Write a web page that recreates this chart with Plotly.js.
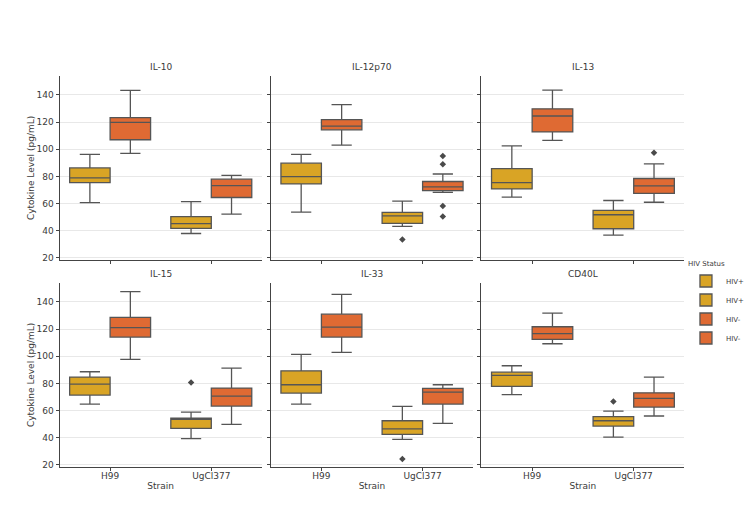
<!DOCTYPE html>
<html>
<head>
<meta charset="utf-8">
<script src="https://cdn.plot.ly/plotly-3.0.1.min.js"></script>
<style>html,body{margin:0;padding:0;background:#fff}#chart{width:750px;height:520px}</style>
</head>
<body>
<div id="chart"></div>
<script>
// ---- data ----
const cytokines = ["IL-10", "IL-12p70", "IL-13", "IL-15", "IL-33", "CD40L"];
const strains = ["H99", "UgCl377"];
const groups = ["HIV+", "HIV-"];

// HIV+ box statistics per cytokine: [H99, UgCl377]
const posLow  = [[60.8, 38.0], [53.8, 43.3], [64.8, 36.8], [64.8, 39.3], [64.8, 38.8], [71.7, 40.5]];
const posQ1   = [[75.5, 41.8], [74.5, 45.5], [70.8, 41.5], [71.4, 46.9], [72.9, 42.5], [77.8, 48.6]];
const posMed  = [[79.0, 45.3], [79.8, 51.0], [75.5, 51.8], [79.5, 53.5], [79.0, 46.6], [85.9, 52.5]];
const posQ3   = [[86.3, 50.5], [89.8, 53.5], [85.8, 55.0], [84.7, 54.5], [89.3, 52.5], [88.3, 55.5]];
const posHigh = [[96.3, 61.5], [96.3, 61.8], [102.5, 62.3], [88.6, 58.9], [101.3, 63.1], [93.0, 59.6]];
const posOut  = [[[], []], [[], [33.5]], [[], []], [[], [80.7]], [[], [24.3]], [[], [66.7]]];

// HIV- box statistics per cytokine: [H99, UgCl377]
const negLow  = [[97.0, 52.3], [103.0, 68.3], [106.5, 61.0], [97.7, 49.8], [102.8, 50.6], [109.2, 56.0]];
const negQ1   = [[107.0, 64.5], [114.3, 69.5], [112.8, 67.5], [114.1, 63.3], [114.1, 64.8], [112.4, 62.6]];
const negMed  = [[119.8, 73.3], [117.0, 72.3], [124.5, 73.0], [121.0, 70.7], [121.5, 73.6], [116.6, 69.0]];
const negQ3   = [[123.3, 78.0], [121.8, 76.3], [129.8, 78.5], [128.6, 76.6], [131.0, 76.3], [121.7, 73.1]];
const negHigh = [[143.3, 80.8], [132.8, 81.8], [143.5, 89.3], [147.5, 91.3], [145.5, 79.0], [131.8, 84.7]];
const negOut  = [[[], []], [[], [95.0, 89.0, 58.3, 50.5]], [[], [97.5]], [[], []], [[], []], [[], []]];

const yTicks = [20, 40, 60, 80, 100, 120, 140];

// ---- styling ----
const colors = {"HIV+": "#D9A425", "HIV-": "#DF6A33"};
const edge = "#555555";
const txt = "#3a3a3a";
const offsets = {"HIV+": -0.2, "HIV-": 0.2};
const stats = {
  "HIV+": {low: posLow, q1: posQ1, med: posMed, q3: posQ3, high: posHigh, out: posOut},
  "HIV-": {low: negLow, q1: negQ1, med: negMed, q3: negQ3, high: negHigh, out: negOut}
};

const xDom = [[0.080, 0.352], [0.364, 0.636], [0.647, 0.920]];
const yDom = [[0.500, 0.854], [0.102, 0.456]];

const traces = [];
const layout = {
  width: 750, height: 520,
  margin: {l: 0, r: 0, t: 0, b: 0},
  paper_bgcolor: "#ffffff", plot_bgcolor: "#ffffff",
  font: {family: "DejaVu Sans", size: 9, color: txt},
  showlegend: true,
  legend: {
    x: 0.922, y: 0.505, xanchor: "left", yanchor: "top",
    title: {text: "HIV Status", font: {size: 7, color: txt}},
    font: {size: 7, color: txt},
    bgcolor: "rgba(255,255,255,0)",
    itemwidth: 30, tracegroupgap: 0
  },
  annotations: [],
  boxmode: "overlay"
};

cytokines.forEach((cyt, i) => {
  const row = Math.floor(i / 3), col = i % 3;
  const n = i + 1;
  const xa = "x" + (n === 1 ? "" : n), ya = "y" + (n === 1 ? "" : n);
  groups.forEach((g, gi) => {
    const s = stats[g];
    const showLeg = i < 2;
    traces.push({
      type: "box",
      name: g,
      legendgroup: g + i,
      legendrank: gi * 10 + i,
      showlegend: showLeg,
      x: strains.map((_, k) => k + offsets[g]),
      q1: s.q1[i], median: s.med[i], q3: s.q3[i],
      lowerfence: s.low[i], upperfence: s.high[i],
      width: 0.4,
      boxpoints: false,
      fillcolor: colors[g],
      line: {color: edge, width: 1.3},
      whiskerwidth: 0.5,
      xaxis: xa, yaxis: ya,
      hoverinfo: "y"
    });
    const ox = [], oy = [];
    s.out[i].forEach((arr, k) => arr.forEach(v => { ox.push(k + offsets[g]); oy.push(v); }));
    if (ox.length) {
      traces.push({
        type: "scatter", mode: "markers", x: ox, y: oy,
        marker: {symbol: "diamond", size: 5, color: "#4a4a4a"},
        showlegend: false, xaxis: xa, yaxis: ya, hoverinfo: "y"
      });
    }
  });

  const xKey = "xaxis" + (n === 1 ? "" : n), yKey = "yaxis" + (n === 1 ? "" : n);
  layout[xKey] = {
    domain: xDom[col], anchor: ya,
    range: [-0.5, 1.5], tickvals: [0, 1], ticktext: strains,
    showticklabels: row === 1,
    ticks: "outside", ticklen: 3, tickcolor: "#444", tickwidth: 1,
    ticklabelstandoff: -3,
    showline: true, linecolor: "#444", linewidth: 1,
    showgrid: false, zeroline: false,
    tickfont: {size: 9, color: txt},
    title: row === 1 ? {text: "Strain", font: {size: 9, color: txt}, standoff: 2} : {text: ""}
  };
  layout[yKey] = {
    domain: yDom[row], anchor: xa,
    range: [18.5, 154], tickvals: yTicks,
    showticklabels: col === 0,
    ticks: "outside", ticklen: 3, tickcolor: "#444", tickwidth: 1,
    showline: true, linecolor: "#444", linewidth: 1,
    showgrid: true, gridcolor: "#e8e8e8", gridwidth: 1,
    zeroline: false,
    tickfont: {size: 9, color: txt},
    title: col === 0 ? {text: "Cytokine Level (pg/mL)", font: {size: 9, color: txt}, standoff: 0} : {text: ""}
  };
  layout.annotations.push({
    text: cyt, xref: "paper", yref: "paper",
    x: (xDom[col][0] + xDom[col][1]) / 2, y: yDom[row][1] + 0.003,
    xanchor: "center", yanchor: "bottom", showarrow: false,
    font: {size: 9, color: txt}
  });
});

Plotly.newPlot("chart", traces, layout, {staticPlot: true, displayModeBar: false});
</script>
</body>
</html>
